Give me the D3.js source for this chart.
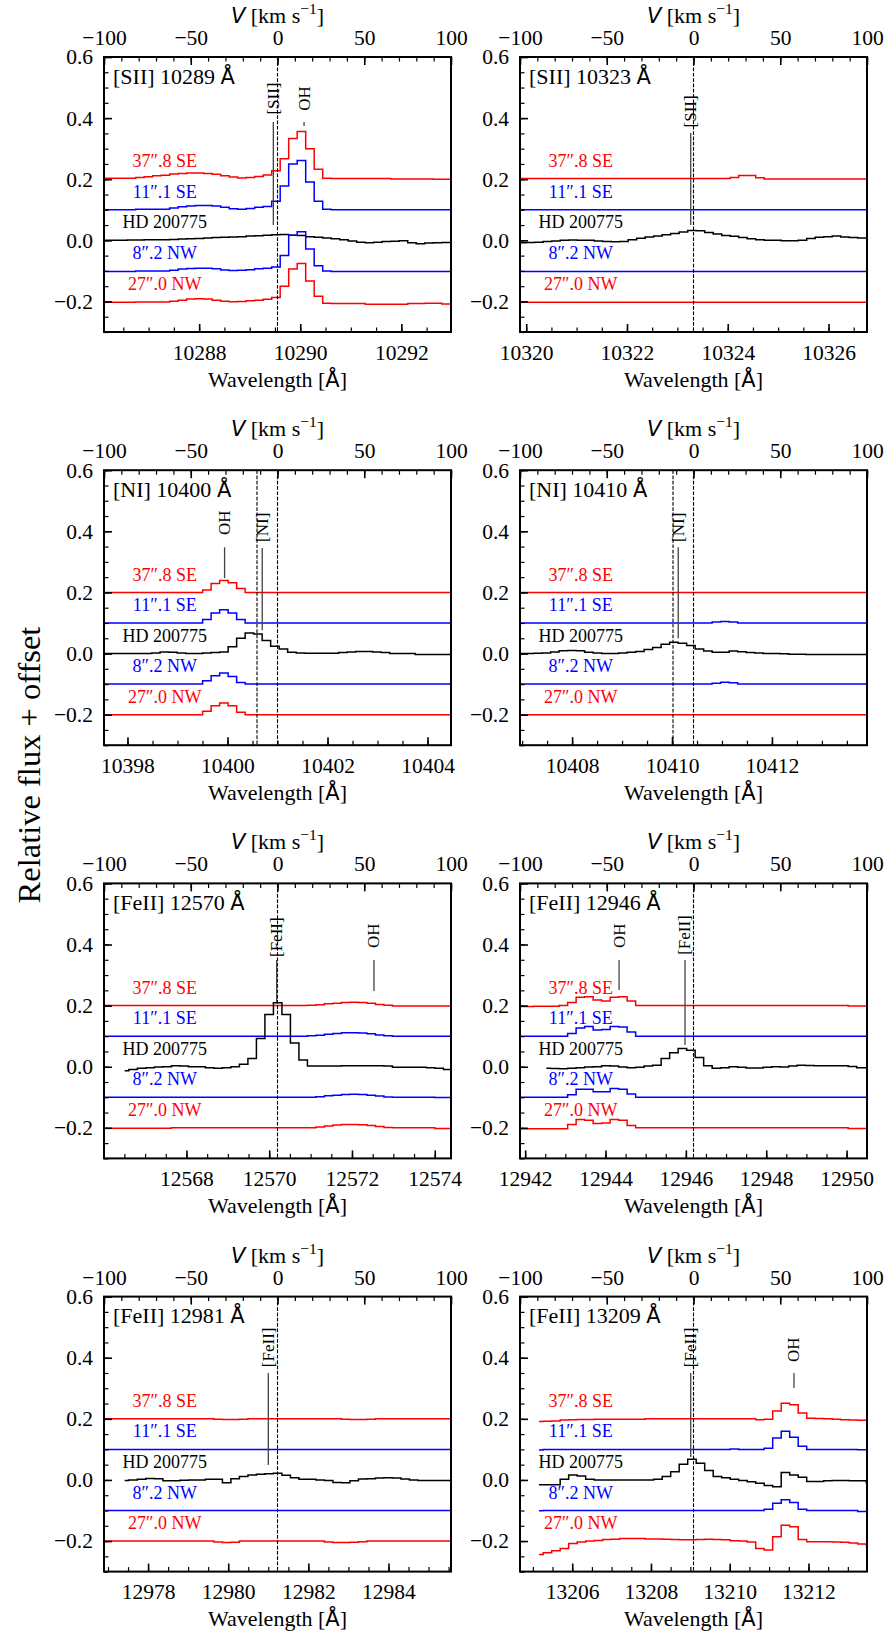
<!DOCTYPE html>
<html>
<head>
<meta charset="utf-8">
<script src="https://cdn.jsdelivr.net/npm/d3@7"></script>
<style>
  body { margin: 0; background: #fff; }
</style>
</head>
<body>
<svg id="chart" width="888" height="1637"></svg>
<script>
const SERIF = "'Liberation Serif', 'Times New Roman', serif";
const SANS = "'DejaVu Sans', sans-serif";
const C_KMS = 299792.458;
const DV = 4.9; // km/s per spectral pixel

// series shown in every panel
const seriesNames = ["37\u2033.8 SE", "11\u2033.1 SE", "HD 200775", "8\u2033.2 NW", "27\u2033.0 NW"];
const seriesKeys = ["se37", "se11", "star", "nw8", "nw27"];
const seriesOffsets = [0.2, 0.1, 0.0, -0.1, -0.2];
const seriesColors = ["#ff0000", "#0000ff", "#000000", "#0000ff", "#ff0000"];

// panel line ids, rest wavelengths (vacuum, A) and first pixel velocity
const panelTitles = ["[SII] 10289", "[SII] 10323", "[NI] 10400", "[NI] 10410", "[FeII] 12570", "[FeII] 12946", "[FeII] 12981", "[FeII] 13209"];
const restWaves = [10289.55, 10323.32, 10401.00, 10410.43, 12570.20, 12946.19, 12981.23, 13209.08];
const firstPixelV = [-103.8, -103.8, -104.4, -104.4, -102.8, -104.4, -102.8, -103.8];
const waveTicks = [
  [10288, 10290, 10292],
  [10320, 10322, 10324, 10326],
  [10398, 10400, 10402, 10404],
  [10408, 10410, 10412],
  [12568, 12570, 12572, 12574],
  [12942, 12944, 12946, 12948, 12950],
  [12978, 12980, 12982, 12984],
  [13206, 13208, 13210, 13212]
];
const extraDashed = [[], [], [10400.59], [10410.02], [], [], [], []];

const yMajor = [-0.2, 0.0, 0.2, 0.4, 0.6];
const vMajor = [-100, -50, 0, 50, 100];

// relative flux (continuum subtracted), one value per pixel
const fluxSII10289 = {
  se37: [0.003,0.003,0.003,0.003,0.003,0.006,0.008,0.011,0.013,0.017,0.019,0.020,0.020,0.019,0.016,0.011,0.007,0.004,0.006,0.009,0.014,0.028,0.067,0.133,0.156,0.100,0.033,0.003,0.002,0.002,0.002,0.002,0.002,0.002,0.002,0.001,0.001,0.001,0.001,0.001,0.000,0.000,0.000],
  se11: [0.000,0.000,0.000,0.000,0.000,0.002,0.002,0.002,0.002,0.006,0.010,0.012,0.014,0.014,0.012,0.008,0.003,0.002,0.004,0.008,0.011,0.028,0.078,0.150,0.161,0.091,0.028,0.002,0.000,0.000,0.000,0.000,0.000,0.000,0.000,0.000,0.000,0.000,0.000,0.000,0.000,0.000,0.000],
  star: [0.000,0.000,0.000,0.000,0.001,0.001,0.002,0.002,0.002,0.003,0.004,0.005,0.006,0.008,0.009,0.010,0.011,0.012,0.014,0.015,0.017,0.018,0.019,0.017,0.016,0.012,0.010,0.008,0.005,0.002,-0.002,-0.006,-0.008,-0.006,-0.004,-0.003,-0.001,-0.008,-0.011,-0.009,-0.008,-0.007,-0.007],
  nw8: [-0.002,-0.002,-0.002,-0.002,-0.002,0.000,0.000,0.000,0.000,0.002,0.006,0.008,0.009,0.009,0.007,0.003,0.001,0.002,0.004,0.007,0.009,0.013,0.050,0.117,0.128,0.072,0.017,0.000,-0.002,-0.002,-0.002,-0.002,-0.002,-0.002,-0.002,-0.002,-0.002,-0.002,-0.002,-0.002,-0.002,-0.002,-0.002],
  nw27: [-0.003,-0.003,-0.003,-0.003,-0.003,-0.002,-0.002,-0.002,-0.002,0.001,0.004,0.008,0.009,0.008,0.004,0.001,-0.001,0.000,0.002,0.004,0.007,0.013,0.050,0.106,0.124,0.067,0.017,-0.006,-0.007,-0.007,-0.007,-0.007,-0.009,-0.009,-0.009,-0.009,-0.009,-0.007,-0.007,-0.006,-0.006,-0.008,-0.008]
};
const fluxSII10323 = {
  se37: [0.002,0.002,0.002,0.002,0.002,0.002,0.002,0.002,0.002,0.002,0.002,0.002,0.002,0.002,0.002,0.002,0.002,0.002,0.002,0.002,0.002,0.002,0.002,0.002,0.002,0.002,0.006,0.012,0.012,0.005,0.001,0.001,0.001,0.001,0.001,0.001,0.001,0.001,0.001,0.001,0.001,0.001,0.001],
  se11: [0.000,0.000,0.000,0.000,0.000,0.000,0.000,0.000,0.000,0.000,0.000,0.000,0.000,0.000,0.000,0.000,0.000,0.000,0.000,0.000,0.000,0.000,0.000,0.000,0.000,0.000,0.000,0.000,0.000,0.000,0.000,0.000,0.000,0.000,0.000,0.000,0.000,0.000,0.000,0.000,0.000,0.000,0.000],
  star: [-0.008,-0.008,-0.007,-0.006,-0.004,-0.002,0.000,0.001,0.000,0.000,-0.002,-0.004,-0.005,-0.004,0.002,0.007,0.011,0.014,0.018,0.022,0.027,0.032,0.031,0.026,0.021,0.016,0.013,0.009,0.005,0.002,0.000,0.000,-0.001,-0.001,0.000,0.006,0.010,0.012,0.014,0.011,0.009,0.008,0.008],
  nw8: [-0.002,-0.002,-0.002,-0.002,-0.002,-0.002,-0.002,-0.002,-0.002,-0.002,-0.002,-0.002,-0.002,-0.002,-0.002,-0.002,-0.002,-0.002,-0.002,-0.002,-0.002,-0.002,-0.002,-0.002,-0.002,-0.002,-0.002,-0.002,-0.002,-0.002,-0.002,-0.002,-0.002,-0.002,-0.002,-0.002,-0.002,-0.002,-0.002,-0.002,-0.002,-0.002,-0.002],
  nw27: [-0.003,-0.003,-0.003,-0.003,-0.003,-0.003,-0.003,-0.003,-0.003,-0.003,-0.003,-0.003,-0.003,-0.003,-0.003,-0.003,-0.003,-0.003,-0.003,-0.003,-0.003,-0.003,-0.003,-0.003,-0.003,-0.003,-0.003,-0.003,-0.003,-0.003,-0.003,-0.003,-0.003,-0.003,-0.003,-0.003,-0.003,-0.003,-0.003,-0.003,-0.003,-0.003,-0.003]
};
const fluxNI10400 = {
  se37: [0,0,0,0,0,0,0,0,0,0,0,0,0,0.008,0.029,0.039,0.032,0.013,0,0,0,0,0,0,0,0,0,0,0,0,0,0,0,0,0,0,0,0,0,0,0,0,0],
  se11: [0,0,0,0,0,0,0,0,0,0,0,0,0,0.011,0.033,0.043,0.033,0.011,0,0,0,0,0,0,0,0,0,0,0,0,0,0,0,0,0,0,0,0,0,0,0,0,0],
  star: [0,0,0,0,0,0,0,0.002,0.005,0.004,0.002,0.000,0.000,0.002,0.003,0.005,0.022,0.050,0.067,0.064,0.043,0.024,0.015,0.004,0.002,0.001,0.001,0.001,0.001,0.003,0.005,0.007,0.007,0.005,0.003,0,0,0,-0.003,-0.003,-0.003,-0.003,-0.003],
  nw8: [0,0,0,0,0,0,0,0,0,0,0,0,0,0.011,0.027,0.036,0.025,0.005,0,0,0,0,0,0,0,0,0,0,0,0,0,0,0,0,0,0,0,0,0,0,0,0,0],
  nw27: [0,0,0,0,0,0,0,0,0,0,0,0,0,0.011,0.029,0.038,0.029,0.008,0,0,0,0,0,0,0,0,0,0,0,0,0,0,0,0,0,0,0,0,0,0,0,0,0]
};
const fluxNI10410 = {
  se37: [0,0,0,0,0,0,0,0,0,0,0,0,0,0,0,0,0,0,0,0,0,0,0,0,0,0,0,0,0,0,0,0,0,0,0,0,0,0,0,0,0,0,0],
  se11: [0,0,0,0,0,0,0,0,0,0,0,0,0,0,0,0,0,0,0,0,0,0,0,0,0.003,0.005,0.003,0,0,0,0,0,0,0,0,0,0,0,0,0,0,0,0],
  star: [0,0,0,0.001,0.002,0.005,0.009,0.010,0.009,0.004,0.002,0,0,0.002,0.004,0.007,0.013,0.020,0.030,0.037,0.034,0.026,0.015,0.008,0.004,0.004,0.008,0.006,0.003,0.002,0,0,-0.001,-0.002,-0.002,-0.003,-0.003,-0.003,-0.003,-0.003,-0.003,-0.003,-0.003],
  nw8: [0,0,0,0,0,0,0,0,0,0,0,0,0,0,0,0,0,0,0,0,0,0,0,0,0.003,0.006,0.004,0,0,0,0,0,0,0,0,0,0,0,0,0,0,0,0],
  nw27: [0,0,0,0,0,0,0,0,0,0,0,0,0,0,0,0,0,0,0,0,0,0,0,0,0,0,0,0,0,0,0,0,0,0,0,0,0,0,0,0,0,0,0]
};
const fluxFeII12570 = {
  se37: [0,0,0,0,0,0,0,0,0,0,0,0,0,0,0,0,0,0,0,0,0,0,0,0,0,0.001,0.003,0.006,0.008,0.010,0.011,0.010,0.008,0.004,0.001,-0.001,-0.001,-0.001,-0.001,-0.001,-0.001,-0.001,-0.001],
  se11: [0,0,0,0,0,0,0,0,0,0,0,0,0,0,0,0,0,0,0,0,0,0,0,0,0,0.001,0.003,0.006,0.009,0.011,0.011,0.010,0.008,0.004,0.001,0,0,0,0,0,0,0,0],
  star: [null,null,null,-0.013,-0.009,-0.005,-0.003,-0.001,0.000,0.003,0.002,0.000,0.000,-0.003,-0.005,-0.003,0.000,0.008,0.027,0.092,0.171,0.209,0.171,0.078,0.022,0.002,0.002,0.002,0.002,0.003,0.003,0.003,0.003,0.003,0.002,-0.002,-0.002,-0.002,-0.002,-0.003,-0.005,-0.009,-0.009],
  nw8: [0,0,0,0,0,0,0,0,0,0,0,0,0,0,0,0,0,0,0,0,0,0,0,0,0,0,0.002,0.005,0.007,0.009,0.010,0.009,0.007,0.004,0.001,0,0,0,0,0,-0.001,-0.001,-0.001],
  nw27: [-0.001,-0.001,-0.001,-0.001,-0.001,-0.001,-0.001,-0.001,-0.001,0,0,0,0,0,0,0,0,0,0,0,0,0,0,0,0,0,0.003,0.006,0.009,0.011,0.011,0.010,0.008,0.004,0.001,0,0,0,0,0,-0.002,-0.002,-0.002]
};
const fluxFeII12946 = {
  se37: [null,-0.003,-0.003,-0.002,-0.002,-0.002,0.000,0.010,0.027,0.029,0.018,0.015,0.027,0.029,0.015,0.000,0,0,0,0,0,0,0,0,0,0,0,0,0,0,0,0,0,0,0,0,0,0,0,0,-0.001,-0.001,-0.001],
  se11: [null,0,0,0,0,0,0,0.009,0.027,0.032,0.020,0.022,0.032,0.030,0.014,0.000,0,0,0,0,0,0,0,0,0,0,0,0,0,0,0,0,0,0,0,0,0,0,0,0,0,0,0],
  star: [null,null,null,null,-0.005,-0.006,-0.007,-0.005,-0.003,-0.001,0.000,0.003,0.002,-0.001,-0.003,-0.002,0.002,0.005,0.027,0.046,0.060,0.054,0.030,0.003,-0.005,-0.003,0.000,-0.002,-0.004,-0.004,-0.002,0.000,-0.001,0.002,0.005,0.004,0.003,0.003,0.003,0.003,0.001,-0.003,-0.003],
  nw8: [null,0,0,0,0,0,0,0.008,0.026,0.026,0.018,0.018,0.029,0.026,0.011,0,0,0,0,0,0,0,0,0,0,0,0,0,0,0,0,0,0,0,0,0,0,0,0,0,0,0,0],
  nw27: [null,-0.003,-0.003,-0.003,-0.003,-0.003,-0.003,0.011,0.027,0.025,0.014,0.016,0.027,0.025,0.008,0.000,0,0,0,0,0,0,0,0,0,0,0,0,0,0,0,0,0,0,0,0,0,0,0,0,-0.002,-0.002,-0.002]
};
const fluxFeII12981 = {
  se37: [0,0,0,0,0,0,0,0,0,0,0,0,0,0,-0.001,-0.002,-0.002,-0.001,0,0,0,0,0,0,0,0,0,0,0,-0.001,-0.002,-0.002,-0.001,0,0,0,0,0,0,0,0,0,0],
  se11: [0,0,0,0,0,0,0,0,0,0,0,0,0,0,0,0,0,0,0,0,0,0,0,0,0,0,0,0,0,0,0,0,0,0,0,0,0,0,0,0,0,0,0],
  star: [null,null,null,-0.002,0.000,0.002,0.005,0.004,-0.003,-0.003,-0.001,0.000,0.000,0.002,0.002,-0.009,0.004,0.011,0.016,0.019,0.020,0.022,0.015,0.007,0.002,0.002,0.000,-0.002,-0.008,-0.009,-0.003,0.003,0.004,0.006,0.007,0.006,0.003,0.000,-0.002,-0.002,-0.002,-0.002,-0.002],
  nw8: [0,0,0,0,0,0,0,0,0,0,0,0,0,0,0,0,0,0,0,0,0,0,0,0,0,0,0,0,0,0,0,0,0,0,0,0,0,0,0,0,0,0,0],
  nw27: [0,0,0,0,0,0,0,0,0,0,0,0,0,0,-0.003,-0.005,-0.004,0,0,0,0,0,0,0,0,0,0,-0.003,-0.005,-0.005,-0.004,-0.002,0,0,0,0,0,0,0,0,0,0,0]
};
const fluxFeII13209 = {
  se37: [null,null,null,-0.009,-0.008,-0.007,-0.004,-0.003,-0.002,-0.002,-0.001,-0.001,-0.001,-0.001,-0.001,-0.001,0,0,0,0,0,0,0,0,0,0,0,0,0,-0.003,-0.001,0.026,0.051,0.046,0.019,0.002,0.001,0.000,-0.001,-0.003,-0.004,-0.005,-0.005],
  se11: [null,null,null,-0.002,0,0,0,0,0,0,0,0,0,0,0,0,0,0,0,0,0,0,0,0,0,0,0.001,0,0,0,0.004,0.037,0.059,0.040,0.010,0,0,0,0,0,0,-0.001,-0.001],
  star: [null,null,null,-0.016,-0.016,-0.016,0.002,0.016,0.013,0.002,0,0,0,0,0,0,0,0.002,0.011,0.027,0.051,0.068,0.055,0.031,0.011,0.007,0.002,-0.002,-0.006,-0.011,-0.018,-0.022,0.024,0.016,0.009,-0.005,-0.005,-0.003,-0.002,-0.002,-0.003,-0.003,-0.008],
  nw8: [null,null,null,-0.001,0,0,0,0,0,0,0,0,0,0,0,0,0,0,0,0,0,0,0,0,0,0,0,0,0,0,0.004,0.024,0.035,0.026,0.004,0,0,0,0,0,0,-0.003,-0.003],
  nw27: [null,null,null,-0.044,-0.038,-0.032,-0.024,-0.008,-0.003,0.000,0.002,0.005,0.006,0.008,0.008,0.008,0.007,0.007,0.006,0.005,0.004,0.004,0.005,0.006,0.005,0.004,0.001,0.000,-0.003,-0.024,-0.029,0.014,0.052,0.047,0.005,-0.002,-0.002,-0.002,-0.003,-0.004,-0.006,-0.010,-0.013]
};
const panelFlux = [fluxSII10289, fluxSII10323, fluxNI10400, fluxNI10410, fluxFeII12570, fluxFeII12946, fluxFeII12981, fluxFeII13209];

// line identifications: velocity, text centre, line top, line bottom
const panelNotes = [
  [{t: "[SII]", v: -2.4, yt: 0.464, y1: 0.387, y0: 0.050}, {t: "OH", v: 15.3, yt: 0.464, y1: 0.387, y0: 0.374}],
  [{t: "[SII]", v: -1.6, yt: 0.422, y1: 0.351, y0: 0.050}],
  [{t: "OH", v: -30.5, yt: 0.428, y1: 0.348, y0: 0.247}, {t: "[NI]", v: -8.8, yt: 0.413, y1: 0.345, y0: 0.076}],
  [{t: "[NI]", v: -8.8, yt: 0.413, y1: 0.348, y0: 0.050}],
  [{t: "[FeII]", v: -0.5, yt: 0.424, y1: 0.349, y0: 0.212}, {t: "OH", v: 55.6, yt: 0.429, y1: 0.349, y0: 0.248}],
  [{t: "OH", v: -42.9, yt: 0.429, y1: 0.349, y0: 0.251}, {t: "[FeII]", v: -4.9, yt: 0.431, y1: 0.349, y0: 0.071}],
  [{t: "[FeII]", v: -5.3, yt: 0.434, y1: 0.350, y0: 0.049}],
  [{t: "[FeII]", v: -1.6, yt: 0.434, y1: 0.350, y0: 0.075}, {t: "OH", v: 57.9, yt: 0.426, y1: 0.350, y0: 0.301}]
];

// layout
const W = 347, H = 275;
const colX = [104, 520];
const rowY = [57, 470.2, 883.4, 1296.6];

const svg = d3.select("#chart");

function styleAxis(g, size, width) {
  g.select(".domain").remove();
  g.attr("font-family", SERIF).attr("font-size", 21.5);
  g.selectAll("line").attr("stroke", "#000").attr("stroke-width", width);
  g.selectAll("text").attr("fill", "#000");
}

panelTitles.forEach((title, p) => {
  const x0 = colX[p % 2], y0 = rowY[Math.floor(p / 2)];
  const lam0 = restWaves[p];
  const xV = d3.scaleLinear().domain([-100, 100]).range([x0, x0 + W]);
  const xW = d3.scaleLinear().domain([lam0 * (1 - 100 / C_KMS), lam0 * (1 + 100 / C_KMS)]).range([x0, x0 + W]);
  const y = d3.scaleLinear().domain([-0.3, 0.6]).range([y0 + H, y0]);

  const g = svg.append("g");
  const clipId = "clip" + p;
  g.append("clipPath").attr("id", clipId)
    .append("rect").attr("x", x0).attr("y", y0).attr("width", W).attr("height", H);

  // spectra
  const flux = panelFlux[p];
  const line = d3.line()
    .defined(d => d.f !== null)
    .x(d => xV(d.v))
    .y(d => y(d.f + d.off))
    .curve(d3.curveStep);
  seriesKeys.forEach((key, s) => {
    const pts = flux[key].map((f, i) => ({v: firstPixelV[p] + i * DV, f: f, off: seriesOffsets[s]}));
    g.append("path")
      .attr("clip-path", `url(#${clipId})`)
      .attr("d", line(pts))
      .attr("fill", "none")
      .attr("stroke", seriesColors[s])
      .attr("stroke-width", 1.5)
      .attr("stroke-linejoin", "miter");
  });

  // rest velocity and extra component lines
  [lam0].concat(extraDashed[p]).forEach(lam => {
    g.append("line")
      .attr("x1", xW(lam)).attr("x2", xW(lam))
      .attr("y1", y0).attr("y2", y0 + H)
      .attr("stroke", "#000").attr("stroke-width", 1.1)
      .attr("stroke-dasharray", "3.7,1.6");
  });

  // identifications
  panelNotes[p].forEach(n => {
    g.append("line")
      .attr("x1", xV(n.v)).attr("x2", xV(n.v))
      .attr("y1", y(n.y1)).attr("y2", y(n.y0))
      .attr("stroke", "#444").attr("stroke-width", 1.3);
    g.append("text")
      .attr("transform", `translate(${xV(n.v)},${y(n.yt)}) rotate(-90)`)
      .attr("text-anchor", "middle")
      .attr("dominant-baseline", "central")
      .attr("font-family", SERIF).attr("font-size", 17)
      .text(n.t);
  });

  // series labels
  seriesNames.forEach((name, s) => {
    g.append("text")
      .attr("x", xV(-65)).attr("y", y(seriesOffsets[s] + 0.039))
      .attr("text-anchor", "middle")
      .attr("font-family", SERIF).attr("font-size", 18)
      .attr("fill", seriesColors[s])
      .text(name);
  });

  // axes: left
  g.append("g").attr("transform", `translate(${x0},0)`)
    .call(d3.axisLeft(y).tickValues(d3.range(-6, 13).map(k => k * 0.05)).tickSize(-4.5).tickFormat(""))
    .call(a => styleAxis(a, 4.5, 1.2));
  g.append("g").attr("transform", `translate(${x0},0)`)
    .call(d3.axisLeft(y).tickValues(yMajor).tickSize(-8).tickPadding(11).tickFormat(d3.format(".1f")))
    .call(a => styleAxis(a, 8, 1.6));

  // bottom wavelength axis
  const [wLo, wHi] = xW.domain();
  g.append("g").attr("transform", `translate(0,${y0 + H})`)
    .call(d3.axisBottom(xW).tickValues(d3.range(Math.ceil(wLo * 2), Math.floor(wHi * 2) + 1).map(k => k / 2)).tickSize(-4.5).tickFormat(""))
    .call(a => styleAxis(a, 4.5, 1.2));
  g.append("g").attr("transform", `translate(0,${y0 + H})`)
    .call(d3.axisBottom(xW).tickValues(waveTicks[p]).tickSize(-8).tickPadding(12.5).tickFormat(d3.format("d")))
    .call(a => styleAxis(a, 8, 1.6));

  // top velocity axis
  g.append("g").attr("transform", `translate(0,${y0})`)
    .call(d3.axisTop(xV).tickValues(d3.range(-100, 101, 10)).tickSize(-4.5).tickFormat(""))
    .call(a => styleAxis(a, 4.5, 1.2));
  g.append("g").attr("transform", `translate(0,${y0})`)
    .call(d3.axisTop(xV).tickValues(vMajor).tickSize(-8).tickPadding(12).tickFormat(d3.format("d")))
    .call(a => styleAxis(a, 8, 1.6));

  // frame
  g.append("rect")
    .attr("x", x0).attr("y", y0).attr("width", W).attr("height", H)
    .attr("fill", "none").attr("stroke", "#000").attr("stroke-width", 2);

  // panel title
  const tt = g.append("text")
    .attr("x", x0 + 9).attr("y", y0 + 26.5)
    .attr("font-family", SERIF).attr("font-size", 22);
  tt.append("tspan").text(title + " ");
  tt.append("tspan").attr("font-family", SANS).attr("font-size", 21).text("\u00c5");

  // axis labels
  const tv = g.append("text")
    .attr("x", x0 + W / 2).attr("y", y0 - 34)
    .attr("text-anchor", "middle")
    .attr("font-family", SERIF).attr("font-size", 22);
  tv.append("tspan").attr("font-family", SANS).attr("font-style", "italic").attr("font-size", 21).text("V");
  tv.append("tspan").text(" [km s");
  tv.append("tspan").attr("font-size", 15.5).attr("dy", -9).text("\u22121");
  tv.append("tspan").attr("dy", 9).text("]");

  const tw = g.append("text")
    .attr("x", x0 + W / 2).attr("y", y0 + H + 54.5)
    .attr("text-anchor", "middle")
    .attr("font-family", SERIF).attr("font-size", 22);
  tw.append("tspan").text("Wavelength [");
  tw.append("tspan").attr("font-family", SANS).attr("font-size", 21).text("\u00c5");
  tw.append("tspan").text("]");
});

svg.append("text")
  .attr("transform", "translate(40,765) rotate(-90)")
  .attr("text-anchor", "middle")
  .attr("font-family", SERIF).attr("font-size", 32.5)
  .text("Relative flux + offset");
</script>
</body>
</html>
